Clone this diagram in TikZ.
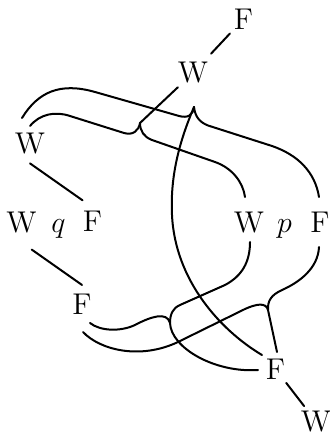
\documentclass[tikz,border=0pt]{standalone}
\usepackage{tikz}
\usetikzlibrary{positioning}
\tikzset{
  sym/.style  = {font=\fontsize{12}{14}\selectfont},
  symb/.style = {sym, anchor=base},
  wire/.style = {thick, line cap=round},
}

\begin{document}
\begin{tikzpicture}[x=0.4pt, y=-0.4pt]
  \useasboundingbox (0,0) rectangle (330,437);
  % letters
  \node[sym] (Ftop)  at (243.5,19)  {F};
  \node[sym] (Wtop)  at (193,73)    {W};
  \node[sym] (Wleft) at (30,144)    {W};
  \node[sym] (Wq)    at (21.5,223)  {W};
  \node[symb] (q)    at (58.5,233)  {$q$};
  \node[sym] (Fq)    at (92.5,221.5) {F};
  \node[sym] (Wp)    at (249,222.5) {W};
  \node[symb] (p)    at (284.5,233) {$p$};
  \node[sym] (Fp)    at (320,222.5) {F};
  \node[sym] (Fmid)  at (82,304)    {F};
  \node[sym] (Fbot)  at (275.5,369) {F};
  \node[sym] (Wbot)  at (316,421.5) {W};

  % braces and ends
  \coordinate (cuspL) at (140,123);
  \coordinate (cuspR) at (194,107);
  \coordinate (cuspM) at (170,323);
  \coordinate (cuspB) at (268,310);
  \coordinate (a0) at (22,118);   \coordinate (a1) at (319,197);
  \coordinate (b0) at (30,126);   \coordinate (b1) at (245,197);
  \coordinate (c0) at (250,242);  \coordinate (c1) at (258,370);
  \coordinate (c2) at (90,323);
  \coordinate (d0) at (319,247);  \coordinate (d1) at (277,352);
  \coordinate (d2) at (83,332);
  \coordinate (e1) at (262,355);

  % straight links
  \draw[wire, shorten >=-2.5pt] (Wtop) -- (Ftop);
  \draw[wire, shorten >=-3pt] (cuspL) -- (Wtop);
  \draw[wire, shorten >=1.5pt] (Wleft.south) -- (Fq.110);
  \draw[wire, shorten <=5pt] (Wq.south) -- (Fmid.north);
  \draw[wire, shorten <=-2.6pt, shorten >=-2pt] (Fbot) -- (Wbot);

  % upper strands
  \draw[wire] (a0) .. controls (38,92) and (60,82) .. (95,92) -- (179,116)
        .. controls (188,118.5) and (193,115) .. (cuspR);
  \draw[wire] (cuspR) .. controls (195,116) and (199,122) .. (208,125.5) -- (272,146)
        .. controls (298,155) and (315,172) .. (a1);
  \draw[wire] (b0) .. controls (40,114) and (55,111) .. (70,116) -- (124,133)
        .. controls (133,135.5) and (138.5,131) .. (cuspL);
  \draw[wire] (cuspL) .. controls (140,131) and (144,137) .. (152,140) -- (215,162)
        .. controls (232,168) and (243,182) .. (b1);
  \draw[wire] (cuspR) .. controls (180,140) and (170,175) .. (172,215)
        .. controls (175,280) and (220,330) .. (e1);

  % lower strands
  \draw[wire] (c0) .. controls (250,262) and (242,276) .. (225,285) -- (180,305)
        .. controls (173,308) and (170,314) .. (cuspM)
        .. controls (171,348) and (215,373) .. (c1);
  \draw[wire] (c2) .. controls (100,331) and (120,332) .. (135,325)
        .. controls (150,317) and (167,311) .. (cuspM);
  \draw[wire] (d0) .. controls (318,268) and (300,282) .. (282,290)
        .. controls (271,295) and (267.5,301) .. (cuspB) -- (d1);
  \draw[wire] (d2) .. controls (100,350) and (140,360) .. (178,342) -- (245,309)
        .. controls (256,304) and (266,302) .. (cuspB);
\end{tikzpicture}
\end{document}
